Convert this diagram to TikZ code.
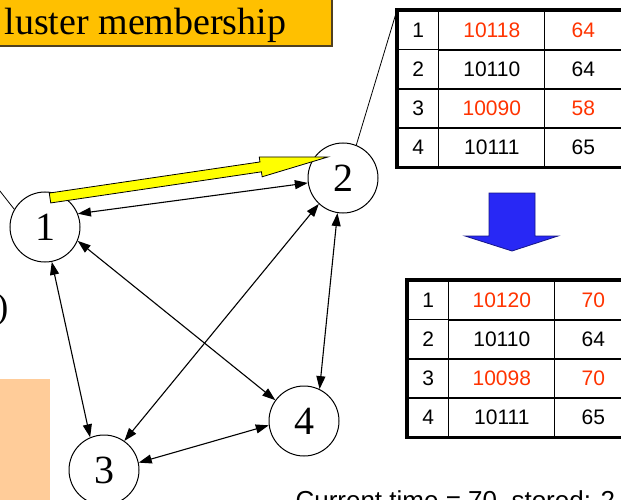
\documentclass[tikz,border=0pt]{standalone}
\usepackage{fontspec}
\setmainfont{Liberation Serif}
\setsansfont{Liberation Sans}
\usepackage{tikz}
\usetikzlibrary{matrix,positioning,arrows.meta}
\definecolor{titlebg}{RGB}{255,192,0}
\definecolor{titleedge}{RGB}{80,64,32}
\definecolor{tabred}{RGB}{255,51,0}
\definecolor{memo}{RGB}{255,204,153}
\definecolor{movebg}{RGB}{255,255,0}
\definecolor{flow}{RGB}{40,40,245}

\begin{document}
\begin{tikzpicture}
	[
		x=1pt, y=-1pt,
		>={Triangle[length=13pt,width=9pt]},
		vertex/.style={circle, draw, fill=white, line width=1pt, minimum size=70pt, inner sep=0pt, font=\fontsize{40}{40}\selectfont},
		link/.style={<->, line width=1.1pt},
		tred/.style={text=tabred},
		every matrix/.style={matrix of nodes, inner sep=0pt, column sep=-1.2pt, row sep=-1.2pt,
			nodes={draw, line width=1.2pt, minimum height=39pt, inner sep=0pt, font=\sffamily\fontsize{21}{21}\selectfont},
			column 1/.style={nodes={minimum width=41pt}},
			column 2/.style={nodes={minimum width=106pt}},
			column 3/.style={nodes={minimum width=77pt}}}
	]
	\useasboundingbox (0,0) rectangle (621,500);

	\fill[memo] (-10,379) rectangle (50,510);
	\fill[titlebg] (-10,-10) rectangle (332,46);
	\draw[titleedge, line width=2pt] (-10,46) -- (332,46) -- (332,-10);
	\node(title) [anchor=base west, font=\fontsize{38}{40}\selectfont] at (1,35) {luster membership};

	\matrix(tb1) [anchor=north west] at (397,10)
	{
		1 & |[tred]| 10118 & |[tred]| 64 \\
		2 & 10110 & 64 \\
		3 & |[tred]| 10090 & |[tred]| 58 \\
		4 & 10111 & 65 \\
	};
	\matrix(tb2) [anchor=north west] at (407,280)
	{
		1 & |[tred]| 10120 & |[tred]| 70 \\
		2 & 10110 & 64 \\
		3 & |[tred]| 10098 & |[tred]| 70 \\
		4 & 10111 & 65 \\
	};
	\foreach \t in {tb1,tb2}
		\draw[line width=3.5pt] (\t.north west) rectangle (\t.south east);

	\draw[flow!55!black, fill=flow, line width=0.8pt] (489,193) -- (535,193) -- (535,236) -- (558,236) -- (512,251) -- (465,236) -- (489,236) -- cycle;

	\foreach \i/\p in {1/{45,227}, 2/{343,178}, 3/{104,470}, 4/{304,421}}
		\node(v\i) [vertex] at (\p) {\i};

	\foreach \a/\b in {v1.22/v2.188, v1.281/v3.113, v1.337/v4.144, v2.227/v3.55, v2.261/v4.64, v3.12/v4.187}
		\draw[link] (\a) -- (\b);

	\coordinate(ys) at ([shift={(5,-29)}]v1.center);
	\begin{scope}[shift={(ys)}, rotate=8.4]
		\draw[fill=movebg, line width=0.8pt] (0,-5) -- (213,-5) -- (213,-10) -- (281,0) -- (213,10) -- (213,5) -- (0,5) -- cycle;
	\end{scope}

	\coordinate(lead) at (-15,172);
	\draw[line width=0.8pt] (lead) -- (v1.150);
	\draw[line width=0.8pt] (tb1.north west) -- (v2.68);

	\node(paren) [anchor=base east, font=\fontsize{36}{40}\selectfont] at (12,318) {)};
	\node(clock) [anchor=base west, font=\sffamily\fontsize{26}{30}\selectfont] at (292,509) {Current time = 70, stored: 2};
\end{tikzpicture}
\end{document}
